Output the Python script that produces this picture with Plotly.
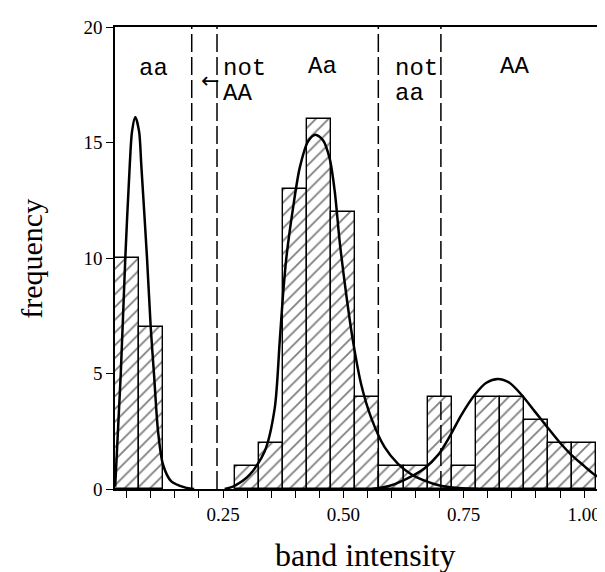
import plotly.graph_objects as go

# ---- data ----
bin_centers = [0.05, 0.10, 0.30, 0.35, 0.40, 0.45, 0.50, 0.55, 0.60, 0.65,
               0.70, 0.75, 0.80, 0.85, 0.90, 0.95, 1.00]
counts = [10, 7, 1, 2, 13, 16, 12, 4, 1, 1, 4, 1, 4, 4, 3, 2, 2]
bin_width = 0.05

aa_x = [0.026, 0.0375, 0.047, 0.0562, 0.061, 0.0678, 0.0756, 0.0803, 0.0921,
        0.0998, 0.1067, 0.115, 0.1254, 0.1426, 0.1704, 0.19]
aa_y = [0.1, 4.95, 10.0, 14.0, 15.48, 16.1, 15.48, 14.0, 10.0,
        7.0, 4.95, 2.5, 1.05, 0.33, 0.07, 0.0]

Aa_x = [0.2535, 0.274, 0.3055, 0.3366, 0.3574, 0.3678, 0.3746, 0.3815, 0.3954,
        0.4093, 0.4266, 0.4418, 0.4577, 0.4716, 0.482, 0.4924, 0.5061, 0.52,
        0.5373, 0.558, 0.586, 0.613, 0.64, 0.67, 0.70, 0.74, 0.78]
Aa_y = [0.0, 0.14, 0.62, 1.63, 3.5, 6.4, 8.4, 10.0, 12.16,
        13.9, 15.05, 15.34, 15.1, 14.3, 12.9, 10.7, 8.4, 6.4,
        4.5, 3.07, 1.8, 1.1, 0.65, 0.35, 0.15, 0.04, 0.0]

AA_x = [0.56, 0.593, 0.627, 0.669, 0.697, 0.721, 0.745, 0.773, 0.797, 0.821,
        0.845, 0.870, 0.8975, 0.925, 0.95, 0.9735, 1.0, 1.022, 1.061]
AA_y = [0.0, 0.12, 0.4, 0.9, 1.48, 2.28, 3.2, 4.08, 4.6, 4.76,
        4.6, 4.08, 3.36, 2.64, 2.0, 1.48, 1.0, 0.62, 0.22]

cut_x = [0.185, 0.2375, 0.5726, 0.7026]

x_tick_vals = [0.05, 0.10, 0.15, 0.20, 0.25, 0.30, 0.35, 0.40, 0.45, 0.50, 0.55,
               0.60, 0.65, 0.70, 0.75, 0.80, 0.85, 0.90, 0.95, 1.00, 1.05]
x_tick_text = ["", "", "", "", "0.25", "", "", "", "", "0.50", "",
               "", "", "", "0.75", "", "", "", "", "1.00", ""]
y_tick_vals = [0, 5, 10, 15, 20]
y_tick_text = ["0", "5", "10", "15", "20"]

label_text = ["aa", "not", "AA", "Aa", "not", "aa", "AA"]
label_x = [0.1046, 0.2458, 0.2458, 0.4557, 0.6031, 0.6031, 0.8545]
label_y = [18.2, 18.2, 17.1, 18.3, 18.2, 17.1, 18.3]
label_anchor = ["center", "left", "left", "center", "left", "left", "center"]
arrow_text = "←"
arrow_x = 0.222
arrow_y = 17.68

fig = go.Figure()
fig.add_trace(go.Bar(
    x=bin_centers, y=counts, width=bin_width,
    marker=dict(color="white", line=dict(color="black", width=1.4),
                pattern=dict(shape="/", fgcolor="black", bgcolor="white",
                             size=9, solidity=0.2)),
    hoverinfo="skip"))

for cx, cy in [(aa_x, aa_y), (Aa_x, Aa_y), (AA_x, AA_y)]:
    fig.add_trace(go.Scatter(x=cx, y=cy, mode="lines",
                             line=dict(color="black", width=2.5, shape="spline", smoothing=0.8),
                             hoverinfo="skip"))

for xv in cut_x:
    fig.add_shape(type="line", xref="x", yref="paper", x0=xv, x1=xv, y0=0, y1=1,
                  line=dict(color="black", width=1.5, dash="18px,5px"))

for t, lx, ly, an in zip(label_text, label_x, label_y, label_anchor):
    fig.add_annotation(x=lx, y=ly, xref="x", yref="y", text=t, showarrow=False,
                       xanchor=an, yanchor="middle",
                       font=dict(family="Liberation Mono", size=24, color="black"))

fig.add_annotation(x=arrow_x, y=arrow_y, xref="x", yref="y", text=arrow_text,
                   showarrow=False, xanchor="center", yanchor="middle",
                   font=dict(family="DejaVu Sans", size=22, color="black"))

fig.add_annotation(x=0.503, y=-0.143, xref="paper", yref="paper", text="band intensity",
                   showarrow=False, xanchor="center", yanchor="middle",
                   font=dict(family="Liberation Serif", size=32, color="black"))
fig.add_annotation(x=-0.167, y=0.498, xref="paper", yref="paper", text="frequency",
                   showarrow=False, xanchor="center", yanchor="middle", textangle=-90,
                   font=dict(family="Liberation Serif", size=30, color="black"))

fig.update_layout(
    width=605, height=572,
    margin=dict(l=107, r=0, t=19, b=91),
    plot_bgcolor="white", paper_bgcolor="white",
    showlegend=False, bargap=0,
    xaxis=dict(range=[0.0256, 1.0601], tickvals=x_tick_vals, ticktext=x_tick_text,
               showline=True, linecolor="black", linewidth=1.5, mirror=True,
               ticks="outside", ticklen=7, tickwidth=1.3, tickcolor="black",
               showgrid=False, zeroline=False,
               tickfont=dict(family="Liberation Serif", size=19, color="black")),
    yaxis=dict(range=[0, 20], tickvals=y_tick_vals, ticktext=y_tick_text,
               showline=True, linecolor="black", linewidth=1.5,
               ticks="outside", ticklen=7, tickwidth=1.3, tickcolor="black",
               showgrid=False, zeroline=False,
               tickfont=dict(family="Liberation Serif", size=19, color="black")),
)

fig.write_html("out.html")
